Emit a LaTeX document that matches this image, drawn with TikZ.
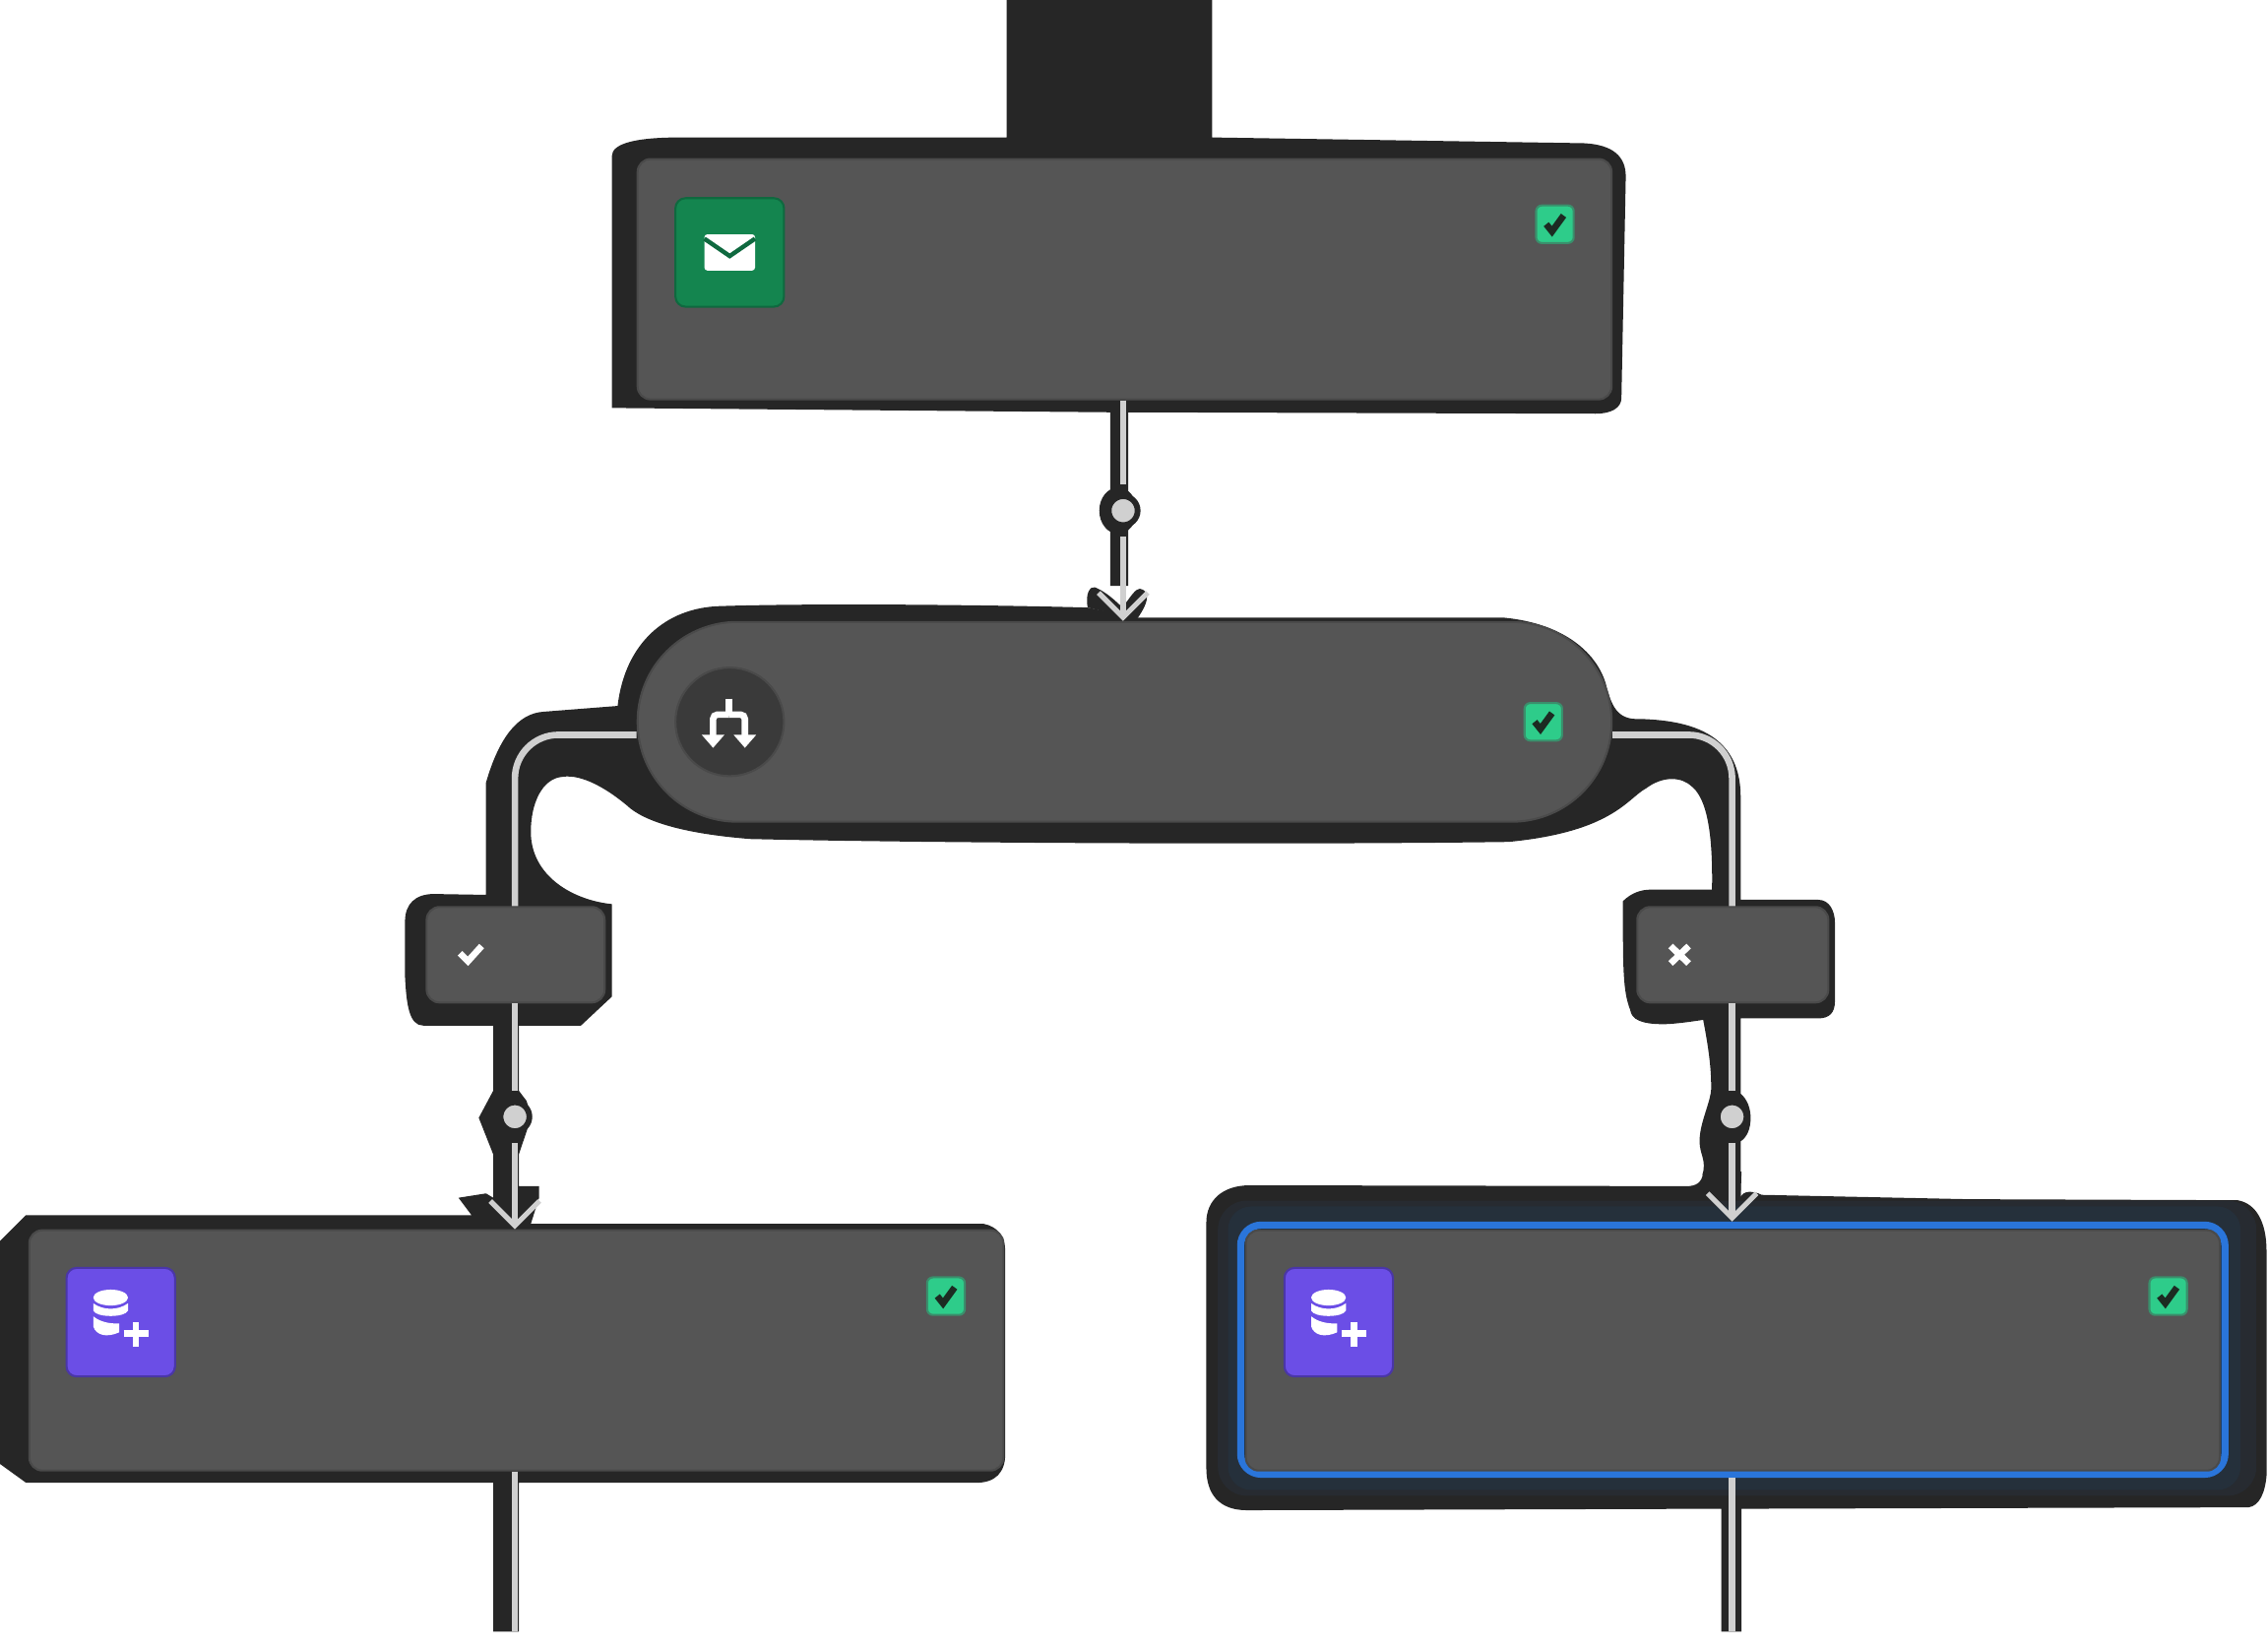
\documentclass[tikz,border=0pt]{standalone}
\usetikzlibrary{arrows.meta}
\definecolor{halo}{HTML}{262626}
\definecolor{cardfill}{HTML}{555555}
\definecolor{cardedge}{HTML}{4A4A4A}
\definecolor{iconshade}{HTML}{3A3A3A}
\definecolor{wirecol}{HTML}{D0D0D0}
\definecolor{okgreen}{HTML}{2ECC8A}
\definecolor{okedge}{HTML}{3A8F6C}
\definecolor{tickcol}{HTML}{1C2B22}
\definecolor{mailgreen}{HTML}{14854F}
\definecolor{mailedge}{HTML}{0F693F}
\definecolor{dbpurple}{HTML}{6B4EE6}
\definecolor{dbedge}{HTML}{4A36A8}
\definecolor{selblue}{HTML}{2A75DA}
\definecolor{selglow}{HTML}{25303B}
\definecolor{selfade}{HTML}{272B31}
\definecolor{selgap}{HTML}{12202E}
\tikzset{
  cardbox/.style={draw=cardedge, fill=cardfill, inner sep=0, rounded corners=0.09cm, minimum width=6.73cm, minimum height=1.66cm},
  iconbox/.style={inner sep=0, rounded corners=0.07cm, line width=0.4pt, minimum size=0.75cm},
  okbadge/.style={draw=okedge, fill=okgreen, inner sep=0, rounded corners=0.04cm, minimum size=0.26cm},
  tagbox/.style={draw=cardedge, fill=cardfill, inner sep=0, rounded corners=0.09cm, minimum height=0.66cm},
  tapdot/.style={circle, draw=halo, fill=wirecol, line width=0.04cm, inner sep=0, minimum size=0.2cm},
  wire/.style={wirecol, line width=0.045cm},
  wiretip/.style={wire, -{Straight Barb[length=1.7mm, width=3.4mm, line width=0.035cm]}},
  glyph/.style={white, line width=0.045cm},
  tickpic/.pic={\draw[line width=0.045cm, tickcol] (-6,0) -- (-2,5) -- (6,-6);},
  dbpic/.pic={
    \fill[white] (-7,-17) ellipse (12 and 5.5);
    \fill[white] (-19,-13) .. controls (-12,-8) and (-2,-8) .. (5,-13) -- (5,-8) .. controls (3,-3) and (-17,-3) .. (-19,-8) -- cycle;
    \fill[white] (-19,-4) .. controls (-14,0) and (-8,1) .. (-1,1) -- (-1,7) .. controls (-10,11) and (-17,9) .. (-19,3) -- cycle;
    \draw[white, line width=0.045cm] (2,8) -- (19,8) (10.5,0) -- (10.5,17);
  }
}
\begin{document}
\begin{tikzpicture}[x=0.01cm, y=-0.01cm, >=latex]
\useasboundingbox (0,0) rectangle (1568,1139);
% Dark backing of the mail card
\fill[halo] (423,108) .. controls (423,99) and (440,95) .. (470,95) -- (696,95) -- (696,0) -- (838,0) -- (838,95)
  -- (1095,99) .. controls (1115,100) and (1124,108) .. (1124,122) -- (1121,275)
  .. controls (1121,282) and (1114,286) .. (1103,286) -- (780,285) -- (780,405) -- (767.5,405) -- (767.5,285) -- (423,282) -- cycle;
\fill[halo] (773,353) ellipse (13 and 16);
\fill[halo] (752,420) .. controls (750,410) and (754,405) .. (757,406) .. controls (762,408) and (768,412) .. (776,420)
  .. controls (782,412) and (785,407) .. (788,407) .. controls (794,408) and (796,414) .. (786,428) -- cycle;
% Dark backing of the split card and its branches
\fill[halo] (336,541) .. controls (345,510) and (358,493) .. (376,492) -- (427,488)
  .. controls (432,445) and (460,420) .. (498,419) .. controls (560,417) and (680,418) .. (752,420) -- (786,427) -- (1040,427)
  .. controls (1080,431) and (1103,450) .. (1110,472) .. controls (1114,488) and (1118,498) .. (1134,497)
  .. controls (1165,498) and (1203,505) .. (1203.4,550)
  -- (1203.4,622) -- (1257,622) .. controls (1265,622) and (1268.6,630) .. (1268.6,638)
  -- (1268.6,692) .. controls (1268.6,700) and (1265,704) .. (1257,704) -- (1203.4,704) -- (1203.4,756)
  .. controls (1208,760) and (1210.3,766) .. (1210.3,773) .. controls (1210.3,780) and (1208,786) .. (1203.4,789)
  -- (1203.4,828) -- (1190,840) -- (1177,812)
  .. controls (1180,802) and (1175,798) .. (1175,789) .. controls (1175,775) and (1184,760) .. (1183,750)
  .. controls (1183,735) and (1180,718) .. (1177.5,705) .. controls (1165,707) and (1155,708) .. (1150,708)
  .. controls (1135,708) and (1128,705) .. (1127,698) .. controls (1122,685) and (1122,670) .. (1122,623)
  .. controls (1128,617) and (1135,615) .. (1141,615) -- (1183.6,615) .. controls (1184,590) and (1183,555) .. (1170,544)
  .. controls (1163,537) and (1150,536) .. (1138,545) .. controls (1125,552) and (1115,575) .. (1043,582)
  .. controls (900,584) and (650,583) .. (519,580) .. controls (480,577) and (450,570) .. (436,559)
  .. controls (420,545) and (402,535) .. (389,537) .. controls (375,538) and (367,555) .. (367,575)
  .. controls (367,605) and (395,622) .. (423,625) -- (423,689) -- (401.6,709) -- (292.7,709)
  .. controls (283,709) and (281,695) .. (280,675) -- (280,637) .. controls (280,625) and (287,618) .. (300,618) -- (336,618.6) -- cycle;
% Dark backing of the two lower cards
\fill[halo] (341,705) -- (358.7,705) -- (358.7,754) -- (364,761) -- (367.5,772) -- (358.7,798) -- (358.7,820) -- (372.7,820) -- (372.7,828)
  -- (367,846) -- (680,846) .. controls (690,848) and (695,855) .. (695,865) -- (695,1005)
  .. controls (695,1018) and (688,1025) .. (675,1025) -- (358.7,1025) -- (358.7,1128) -- (341,1128) -- (341,1025) -- (18,1025)
  -- (0,1012) -- (0,858) -- (18,840) -- (326,840) -- (317,828) -- (336,825) -- (341,828) -- (341,798) -- (331,772.7) -- (341,754) -- cycle;
\fill[halo] (834,845) .. controls (834,830) and (845,819.4) .. (864,819.4) -- (1166,820) .. controls (1172,820) and (1177,818) .. (1177.5,810)
  -- (1204,810) -- (1203.4,827.7) .. controls (1205,823) and (1212,823) .. (1218,826) -- (1361,829) -- (1547,829.7)
  .. controls (1560,832) and (1567,845) .. (1567,865) -- (1567,1020) .. controls (1566,1032) and (1562,1041) .. (1554.6,1042)
  -- (1204,1043) -- (1204,1128) -- (1190,1128) -- (1190,1043) -- (862,1044) .. controls (843,1044) and (834,1033) .. (834,1015) -- cycle;
\fill[selfade, rounded corners=0.2cm] (842,830) rectangle (1560,1034);
\fill[selglow, rounded corners=0.16cm] (849,834) rectangle (1549,1030);
% Cards
\node[cardbox] (mailcard) at (777.5,193) {};
\node[cardbox, rounded corners=0.69cm, minimum height=1.38cm] (splitcard) at (777.5,499) {};
\node[tagbox, minimum width=1.23cm] (okbox) at (356.5,660) {};
\node[tagbox, minimum width=1.32cm] (nobox) at (1198,660) {};
\node[cardbox] (leftcard) at (357,933.5) {};
\node[draw=selblue, fill=selgap, line width=0.05cm, inner sep=0, rounded corners=0.14cm, minimum width=6.8cm, minimum height=1.72cm] (selring) at (1198,933) {};
\node[cardbox] (rightcard) at (1198,933.5) {};
% Icons
\node[iconbox, draw=mailedge, fill=mailgreen] (mailicon) at (504.5,174.5) {};
\fill[white, rounded corners=0.02cm] (487,162) rectangle (522,187);
\draw[mailedge, line width=0.03cm] (487,165) -- (504.5,177) -- (522,165);
\node[circle, draw=cardedge, fill=iconshade, inner sep=0, minimum size=0.75cm] (spliticon) at (504.5,499) {};
\draw[glyph] (504,483) -- (504,495);
\draw[glyph, rounded corners=0.03cm, -{Triangle[length=0.9mm, width=1.5mm]}] (504,494) -| (493,517);
\draw[glyph, rounded corners=0.03cm, -{Triangle[length=0.9mm, width=1.5mm]}] (504,494) -| (515,517);
\node[iconbox, draw=dbedge, fill=dbpurple] (dbicona) at (83.5,914) {};
\node[iconbox, draw=dbedge, fill=dbpurple] (dbiconb) at (925.5,914) {};
\path (dbicona) pic {dbpic} (dbiconb) pic {dbpic};
% Badges
\node[okbadge] (okmail) at (1075,155) {};
\node[okbadge] (oksplit) at (1067,499) {};
\node[okbadge] (okleft) at (654,896) {};
\node[okbadge] (okright) at (1499,896) {};
\path (okmail) pic {tickpic} (oksplit) pic {tickpic} (okleft) pic {tickpic} (okright) pic {tickpic};
% Tag marks
\draw[glyph] (318,659) -- (323.5,664.5) -- (333,654);
\draw[glyph] (1155,654) -- (1167.5,666) (1167.5,654) -- (1155,666);
% Wires
\node[tapdot] (maildot) at (776.5,353) {};
\node[tapdot] (okdot) at (356,772) {};
\node[tapdot] (nodot) at (1197.5,772) {};
\coordinate (leftend) at (356,1128);
\coordinate (rightend) at (1197.5,1128);
\draw[wire, shorten >=0.06cm] (maildot |- mailcard.south) -- (maildot);
\draw[wiretip, shorten <=0.06cm] (maildot) -- (maildot |- splitcard.north);
\draw[wire, rounded corners=0.3cm] ([yshift=-0.09cm]splitcard.west) -| (okdot |- okbox.north);
\draw[wire, rounded corners=0.3cm] ([yshift=-0.09cm]splitcard.east) -| (nodot |- nobox.north);
\draw[wire, shorten >=0.06cm] (okdot |- okbox.south) -- (okdot);
\draw[wiretip, shorten <=0.06cm] (okdot) -- (okdot |- leftcard.north);
\draw[wire, shorten >=0.06cm] (nodot |- nobox.south) -- (nodot);
\draw[wiretip, shorten <=0.06cm] (nodot) -- (nodot |- selring.north);
\draw[wire] (leftend |- leftcard.south) -- (leftend);
\draw[wire] (rightend |- selring.south) -- (rightend);
\end{tikzpicture}
\end{document}
